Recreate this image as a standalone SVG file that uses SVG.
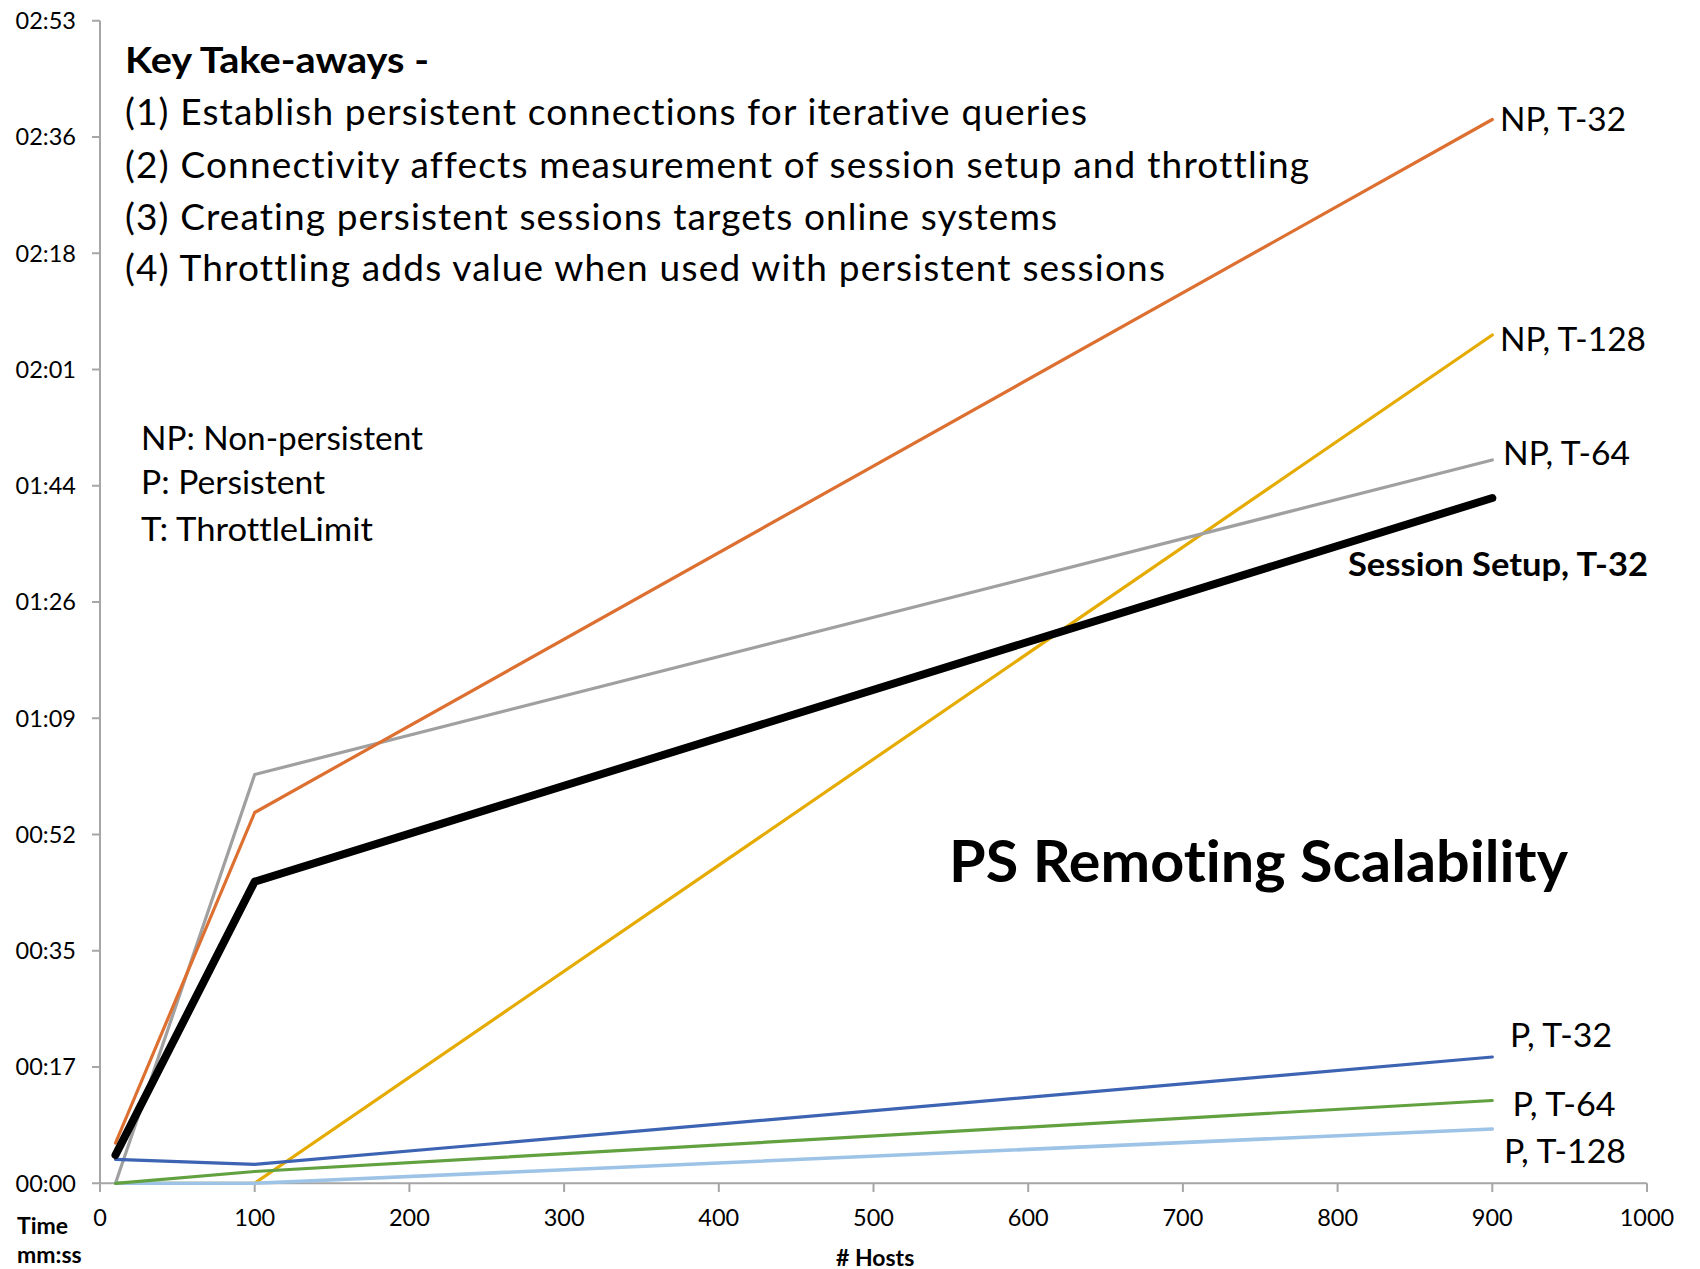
<svg xmlns="http://www.w3.org/2000/svg" width="1700" height="1269" viewBox="0 0 1700 1269">
<style>
text{font-family:Lato,"Open Sans","Liberation Sans",sans-serif;fill:#000;font-variant-ligatures:none;font-feature-settings:"liga" 0,"clig" 0}
.tick{font-size:23.5px;fill:#404040}
.xt{text-anchor:middle}
.yt{text-anchor:end}
.ax{stroke:#a6a6a6;stroke-width:2;fill:none}
.ttl{font-size:37px}
.b{font-weight:bold}
.leg{font-size:33px}
.ser{fill:none;stroke-width:3.2;stroke-linejoin:round;stroke-linecap:round}
.thick{stroke-width:8}
.lb{stroke-width:3.6}
</style>
<rect width="1700" height="1269" fill="#fff"/>
<g id="axes">
<path class="ax" d="M100 20.7V1183.3M92 1183.3H1647"/>
<path class="ax" d="M92 20.7H100M92 137H100M92 253.2H100M92 369.5H100M92 485.7H100M92 602H100M92 718.3H100M92 834.5H100M92 950.8H100M92 1067H100"/>
<path class="ax" d="M100 1183.3V1192M254.7 1183.3V1192M409.4 1183.3V1192M564.1 1183.3V1192M718.8 1183.3V1192M873.5 1183.3V1192M1028.2 1183.3V1192M1182.9 1183.3V1192M1337.6 1183.3V1192M1492.3 1183.3V1192M1647 1183.3V1192"/>
<g class="tick yt">
<text x="76" y="29">02:53</text>
<text x="76" y="145.3">02:36</text>
<text x="76" y="261.5">02:18</text>
<text x="76" y="377.8">02:01</text>
<text x="76" y="494">01:44</text>
<text x="76" y="610.3">01:26</text>
<text x="76" y="726.6">01:09</text>
<text x="76" y="842.8">00:52</text>
<text x="76" y="959.1">00:35</text>
<text x="76" y="1075.3">00:17</text>
<text x="76" y="1191.6">00:00</text>
</g>
<g class="tick xt">
<text x="100" y="1226">0</text>
<text x="254.7" y="1226">100</text>
<text x="409.4" y="1226">200</text>
<text x="564.1" y="1226">300</text>
<text x="718.8" y="1226">400</text>
<text x="873.5" y="1226">500</text>
<text x="1028.2" y="1226">600</text>
<text x="1182.9" y="1226">700</text>
<text x="1337.6" y="1226">800</text>
<text x="1492.3" y="1226">900</text>
<text x="1647" y="1226">1000</text>
</g>
<text class="b" x="17" y="1234" font-size="23">Time</text>
<text class="b" x="17" y="1263" font-size="23">mm:ss</text>
<text class="b" x="836" y="1266" font-size="23">#  Hosts</text>
</g>
<g id="series">
<polyline id="np-t128" class="ser" stroke="#e5ab00" points="115.5,1183.3 254.7,1183.3 1492.3,335"/>
<polyline id="np-t64" class="ser" stroke="#a0a0a0" points="115.5,1183.3 254.7,774.5 1492.3,460"/>
<polyline id="np-t32" class="ser" stroke="#dd7031" points="115.5,1143 254.7,812.5 1492.3,119.5"/>
<polyline id="p-t128" class="ser lb" stroke="#9dc3e6" points="115.5,1183.3 254.7,1183.3 1492.3,1129"/>
<polyline id="p-t64" class="ser" stroke="#62a13f" points="115.5,1183.3 254.7,1171.5 1492.3,1100.5"/>
<polyline id="p-t32" class="ser" stroke="#3d63b3" points="115.5,1159.3 254.7,1164.4 1492.3,1057"/>
<polyline id="session-setup-t32" class="ser thick" stroke="#000" points="115.5,1155 254.7,881.6 1492.3,498"/>
</g>
<g id="takeaways">
<text class="ttl b" x="125" y="73" font-size="38" textLength="304" lengthAdjust="spacingAndGlyphs">Key Take-aways -</text>
<text class="ttl" x="125" y="125" textLength="962" lengthAdjust="spacing">(1) Establish persistent connections for iterative queries</text>
<text class="ttl" x="125" y="177.5" textLength="1184" lengthAdjust="spacing">(2) Connectivity affects measurement of session setup and throttling</text>
<text class="ttl" x="125" y="229.5" textLength="932" lengthAdjust="spacing">(3) Creating persistent sessions targets online systems</text>
<text class="ttl" x="125" y="281" textLength="1040" lengthAdjust="spacing">(4) Throttling adds value when used with persistent sessions</text>
</g>
<g id="legend-key">
<text class="leg" x="141" y="449.5" textLength="282" lengthAdjust="spacingAndGlyphs">NP: Non-persistent</text>
<text class="leg" x="141" y="494" textLength="184" lengthAdjust="spacingAndGlyphs">P: Persistent</text>
<text class="leg" x="141" y="540.5" textLength="232" lengthAdjust="spacingAndGlyphs">T: ThrottleLimit</text>
</g>
<g id="series-labels">
<text id="lbl-np-t32" class="leg" x="1500" y="130.5" textLength="126" lengthAdjust="spacingAndGlyphs">NP, T-32</text>
<text id="lbl-np-t128" class="leg" x="1500" y="350.5" textLength="146" lengthAdjust="spacingAndGlyphs">NP, T-128</text>
<text id="lbl-np-t64" class="leg" x="1503" y="464.5" textLength="127" lengthAdjust="spacingAndGlyphs">NP, T-64</text>
<text id="lbl-session" class="leg b" x="1348" y="575.5" font-size="34" textLength="300" lengthAdjust="spacingAndGlyphs">Session Setup, T-32</text>
<text id="lbl-p-t32" class="leg" x="1510" y="1046.5" textLength="102" lengthAdjust="spacingAndGlyphs">P, T-32</text>
<text id="lbl-p-t64" class="leg" x="1512.5" y="1116.3" textLength="103" lengthAdjust="spacingAndGlyphs">P, T-64</text>
<text id="lbl-p-t128" class="leg" x="1504" y="1163" textLength="122" lengthAdjust="spacingAndGlyphs">P, T-128</text>
</g>
<g id="chart-title">
<text class="b" x="949" y="882" font-size="58" textLength="619" lengthAdjust="spacingAndGlyphs">PS Remoting Scalability</text>
</g>
</svg>
